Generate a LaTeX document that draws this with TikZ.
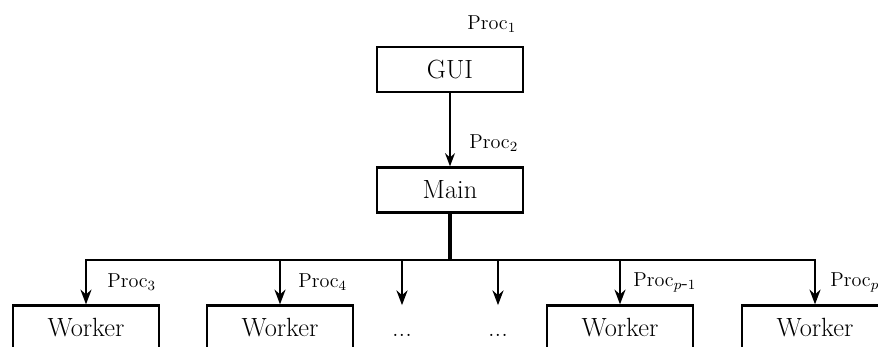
\documentclass[tikz,border=0pt]{standalone}
\usepackage{tikz}
\usetikzlibrary{arrows.meta}
\begin{document}
\begin{tikzpicture}[>=Stealth, x=0.02cm, y=-0.02cm,
  font=\fontsize{15}{17}\selectfont,
  box/.style={draw, line width=1.3pt, minimum width=2.92cm, minimum height=0.9cm, inner sep=0pt},
  hole/.style={minimum width=2.92cm, minimum height=0.9cm, inner sep=0pt},
  lbl/.style={anchor=west, inner sep=0pt, font=\fontsize{11.5}{13}\selectfont},
  link/.style={->, line width=1pt}]

\clip (0,0) rectangle (878,347);

% top of the tree
\node[box] (gui) at (450,69.5) {GUI};
\node[box] (main) at (450,190) {Main};

% workers (cut by the lower edge)
\node[box] (w1) at (86,328) {Worker};
\node[box] (w2) at (280,328) {Worker};
\node[hole] (d1) at (402,328) {\vphantom{W}...};
\node[hole] (d2) at (498,328) {\vphantom{W}...};
\node[box] (w5) at (620,328) {Worker};
\node[box] (w6) at (815,328) {Worker};

\coordinate (bus) at (450,260);

\draw[link] (gui) -- (main);
\draw[line width=2pt] (main) -- (bus);
\foreach \t in {w1,w2,d1,d2,w5,w6}
  \draw[link, line width=1.2pt] (bus) -| (\t.north);

% process labels
\node[lbl] at ([shift={(17,-22)}]gui.north) {Proc$_1$};
\node[lbl] at ([shift={(19,-23)}]main.north) {Proc$_2$};
\node[lbl] at ([shift={(21,-22)}]w1.north) {Proc$_3$};
\node[lbl] at ([shift={(18,-22)}]w2.north) {Proc$_4$};
\node[lbl] at ([shift={(13,-22)}]w5.north) {Proc$_{p\mbox{-}1}$};
\node[lbl] at ([shift={(15,-22)}]w6.north) {Proc$_p$};

\end{tikzpicture}
\end{document}
